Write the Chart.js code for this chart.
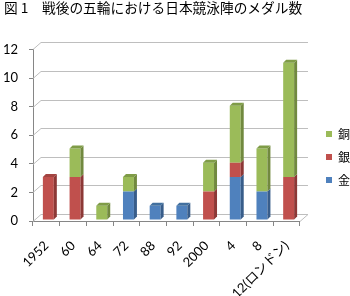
<!DOCTYPE html>
<html>
<head>
<meta charset="utf-8">
<script src="https://cdn.jsdelivr.net/npm/chart.js@4/dist/chart.umd.min.js"></script>
<style>
  html, body { margin: 0; padding: 0; background: #fff; }
</style>
</head>
<body>
<canvas id="medalChart" width="350" height="296"></canvas>
<script>
const years  = ["1952", "60", "64", "72", "88", "92", "2000", "4", "8", "12(ロンドン)"];
const gold   = [0, 0, 0, 2, 1, 1, 0, 3, 2, 0];
const silver = [3, 3, 0, 0, 0, 0, 2, 1, 0, 3];
const bronze = [0, 2, 1, 1, 0, 0, 2, 4, 3, 8];
const yTicks = [0, 2, 4, 6, 8, 10, 12];

const frontColors = ["#4F81BD", "#C0504D", "#9BBB59"];
const sideColors  = ["#385D8A", "#8C3836", "#71893F"];
const topColors   = ["#42709F", "#A34441", "#7F9C47"];

// excel-like pseudo 3d: back wall offset and bar depth
const DX = 8, DY = 7;
const BX = 3, BY = 3;
const SHIFT_X = 2, SHIFT_Y = -1;
// legend sits a bit further right / lower than chart.js puts it
const LEGEND_DX = 15, LEGEND_DY = 9;

const fake3d = {
    id: "fake3d",
    afterLayout(chart) {
        const lg = chart.legend;
        lg.left += LEGEND_DX; lg.right += LEGEND_DX;
        lg.top += LEGEND_DY; lg.bottom += LEGEND_DY;
    },
    beforeDatasetsDraw(chart) {
        const ctx = chart.ctx;
        const a = chart.chartArea;
        const y = chart.scales.y;
        ctx.save();
        ctx.strokeStyle = "#BEBEBE";
        ctx.lineWidth = 1;
        yTicks.forEach(v => {
            const py = Math.round(y.getPixelForValue(v)) + 0.5;
            ctx.beginPath();
            ctx.moveTo(a.left, py);
            ctx.lineTo(a.left + DX, py - DY);
            ctx.lineTo(a.right + DX, py - DY);
            if (v === 0) ctx.lineTo(a.right, py);
            ctx.stroke();
        });
        ctx.restore();
        ctx.save();
        ctx.translate(SHIFT_X, SHIFT_Y);
    },
    afterDatasetsDraw(chart) {
        const ctx = chart.ctx;
        const sets = chart.data.datasets;
        for (let i = 0; i < years.length; i++) {
            let topIdx = -1;
            sets.forEach((ds, d) => { if (ds.data[i] > 0) topIdx = d; });
            sets.forEach((ds, d) => {
                if (!(ds.data[i] > 0)) return;
                const el = chart.getDatasetMeta(d).data[i];
                const p = el.getProps(["x", "y", "base", "width"], true);
                const l = p.x - p.width / 2, r = p.x + p.width / 2;
                ctx.fillStyle = sideColors[d];
                ctx.beginPath();
                ctx.moveTo(r, p.y);
                ctx.lineTo(r + BX, p.y - BY);
                ctx.lineTo(r + BX, p.base - BY);
                ctx.lineTo(r, p.base);
                ctx.closePath();
                ctx.fill();
                if (d === topIdx) {
                    ctx.fillStyle = topColors[d];
                    ctx.beginPath();
                    ctx.moveTo(l, p.y);
                    ctx.lineTo(l + BX, p.y - BY);
                    ctx.lineTo(r + BX, p.y - BY);
                    ctx.lineTo(r, p.y);
                    ctx.closePath();
                    ctx.fill();
                }
            });
        }
        ctx.restore();
    }
};

new Chart("medalChart", {
    type: "bar",
    data: {
        labels: years,
        datasets: [
            {label: "金", data: gold, backgroundColor: frontColors[0]},
            {label: "銀", data: silver, backgroundColor: frontColors[1]},
            {label: "銅", data: bronze, backgroundColor: frontColors[2]}
        ]
    },
    options: {
        responsive: false,
        animation: false,
        layout: {padding: {left: 4, right: 5, top: 0, bottom: 0}},
        datasets: {
            bar: {barPercentage: 0.41, categoryPercentage: 1, borderWidth: 0}
        },
        plugins: {
            title: {
                display: true,
                text: "図 1　戦後の五輪における日本競泳陣のメダル数",
                align: "start",
                color: "#000",
                font: {family: "'Noto Sans CJK JP'", size: 13.7, weight: "normal"},
                padding: {top: 0, bottom: 33}
            },
            legend: {
                position: "right",
                reverse: true,
                labels: {
                    boxWidth: 6,
                    boxHeight: 6,
                    padding: 11,
                    color: "#000",
                    font: {family: "'Noto Sans CJK JP'", size: 12}
                }
            },
            tooltip: {enabled: false}
        },
        scales: {
            x: {
                stacked: true,
                grid: {drawOnChartArea: false, tickLength: 5, color: "#868686"},
                border: {color: "#868686"},
                ticks: {
                    color: "#000",
                    maxRotation: 45,
                    minRotation: 45,
                    padding: 12,
                    font: {family: "Lato, 'Noto Sans CJK JP'", size: 13}
                },
                afterFit: s => { s.height = 75; }
            },
            y: {
                stacked: true,
                min: 0,
                max: 12,
                grid: {drawOnChartArea: false, tickLength: 4, color: "#868686"},
                border: {color: "#868686"},
                ticks: {
                    stepSize: 2,
                    color: "#000",
                    padding: 11,
                    font: {family: "Lato", size: 13}
                },
                afterFit: s => { s.width = 29; }
            }
        }
    },
    plugins: [fake3d]
});
</script>
</body>
</html>
